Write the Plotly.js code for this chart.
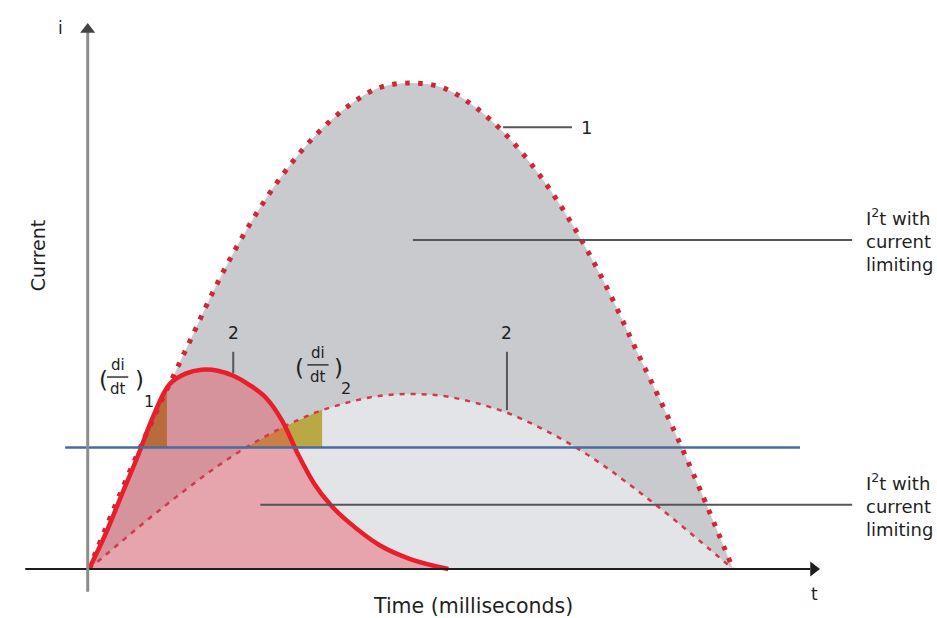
<!DOCTYPE html>
<html>
<head>
<meta charset="utf-8">
<script src="https://cdn.plot.ly/plotly-3.0.1.min.js"></script>
<style>
html,body{margin:0;padding:0;background:#fff;}
#chart{width:937px;height:618px;}
</style>
</head>
<body>
<div id="chart"></div>
<script>
// ---- data (time in ms units, current in relative units) ----
const tBig = [0,0.5,1,1.5,2,2.5,3,3.5,4,4.5,5,5.5,6,6.5,7,7.5,8,8.5,9,9.5,10];
const iBig = [0,1.6,3.1,4.5,5.9,7.1,8.1,8.9,9.5,9.9,10.0,9.9,9.5,8.9,8.1,7.1,5.9,4.5,3.1,1.6,0];
const tSmall = [0,0.5,1,1.5,2,2.5,3,3.5,4,4.5,5,5.5,6,6.5,7,7.5,8,8.5,9,9.5,10];
const iSmall = [0,0.56,1.11,1.63,2.12,2.55,2.91,3.21,3.42,3.56,3.6,3.56,3.42,3.21,2.91,2.55,2.12,1.63,1.11,0.56,0];
const tFault = [0,0.25,0.5,0.75,1.0,1.25,1.5,1.75,2.0,2.25,2.5,2.75,3.0,3.25,3.5,3.75,4.0,4.5,5.0,5.58];
const iFault = [0,0.7,1.5,2.3,3.15,3.8,4.02,4.1,4.08,3.97,3.78,3.52,3.05,2.35,1.75,1.32,1.0,0.5,0.2,0];
const tLimit = [-0.37, 11.04];
const iLimit = [2.5, 2.5];
const tSlope1 = [0.8, 1.0, 1.21, 1.21];
const iSlope1 = [2.5, 3.15, 3.72, 2.5];
const tSlope2 = [2.44, 2.5, 3.0, 3.5, 3.62, 3.62];
const iSlope2 = [2.5, 2.55, 2.91, 3.21, 3.28, 2.5];
// axis extents (time axis and current axis)
const tAxis = [-0.99, 11.2];
const iAxis = [-0.47, 11.05];

const FONT = 'DejaVu Sans, Arial, sans-serif';
const TXT = '#1f1f1f';

const traces = [
  {x: tBig, y: iBig, mode: 'none', fill: 'tozeroy', fillcolor: '#c9cace', line:{shape:'spline'}, hoverinfo:'skip'},
  {x: tSmall, y: iSmall, mode: 'none', fill: 'tozeroy', fillcolor: '#e3e4e7', line:{shape:'spline'}, hoverinfo:'skip'},
  {x: tSlope1, y: iSlope1, mode: 'none', fill: 'toself', fillcolor: '#9a8a36', hoverinfo:'skip'},
  {x: tSlope2, y: iSlope2, mode: 'none', fill: 'toself', fillcolor: '#b9a845', hoverinfo:'skip'},
  {x: tFault, y: iFault, mode: 'none', fill: 'tozeroy', fillcolor: 'rgba(235,55,70,0.37)', line:{shape:'spline'}, hoverinfo:'skip'},
  {x: tSmall, y: iSmall, mode: 'lines', line: {color:'#cf3a4c', width:2.5, dash:'5px,6px', shape:'spline'}, hoverinfo:'skip'},
  {x: tBig, y: iBig, mode: 'lines', line: {color:'#d02638', width:5, dash:'4.5px,8.5px', shape:'spline'}, hoverinfo:'skip'},
  {x: tFault, y: iFault, mode: 'lines', line: {color:'#e81e2c', width:4.5, shape:'spline'}, hoverinfo:'skip'},
  {x: tLimit, y: iLimit, mode: 'lines', line: {color:'#4a6b9c', width:2.5}, hoverinfo:'skip'},
  // time axis line with arrowhead
  {x: tAxis, y: [0, 0], mode: 'lines', line: {color:'#1e1e1e', width:2}, hoverinfo:'skip'},
  {x: [tAxis[1] + 0.05], y: [0], mode: 'markers', marker: {symbol:'triangle-right', size:13, color:'#1e1e1e'}, hoverinfo:'skip'},
  // current axis line with arrowhead
  {x: [-0.02, -0.02], y: iAxis, mode: 'lines', line: {color:'#8c8c8c', width:3}, hoverinfo:'skip'},
  {x: [-0.02], y: [iAxis[1] + 0.05], mode: 'markers', marker: {symbol:'triangle-up', size:13, color:'#444'}, hoverinfo:'skip'}
];

const gray = '#555555';
const shapes = [
  // leader lines
  {type:'line', x0:6.43, x1:7.5, y0:9.09, y1:9.09, line:{color:gray, width:2}, layer:'above'},
  {type:'line', x0:5.03, x1:11.85, y0:6.77, y1:6.77, line:{color:gray, width:2}, layer:'above'},
  {type:'line', x0:2.66, x1:11.85, y0:1.32, y1:1.32, line:{color:gray, width:2}, layer:'above'},
  {type:'line', x0:2.24, x1:2.24, y0:4.03, y1:4.47, line:{color:gray, width:2}, layer:'above'},
  {type:'line', x0:6.49, x1:6.49, y0:3.27, y1:4.47, line:{color:gray, width:2}, layer:'above'},
  // fraction bars
  {type:'line', x0:0.28, x1:0.61, y0:3.95, y1:3.95, line:{color:'#333', width:1.5}, layer:'above'},
  {type:'line', x0:3.39, x1:3.72, y0:4.2, y1:4.2, line:{color:'#333', width:1.5}, layer:'above'}
];

function ann(x, y, text, size, extra){
  return Object.assign({x:x, y:y, xref:'x', yref:'y', text:text, showarrow:false,
    font:{family:FONT, size:size, color:TXT}}, extra||{});
}

const annotations = [
  ann(-0.435, 11.13, 'i', 17),
  ann(11.27, -0.51, 't', 17),
  ann(-0.79, 6.44, 'Current', 19, {textangle:-90}),
  ann(5.96, -0.77, 'Time (milliseconds)', 20.5),
  ann(7.73, 9.09, '1', 18),
  ann(2.24, 4.86, '2', 17),
  ann(6.49, 4.86, '2', 17),
  ann(12.03, 6.77, 'I<sup>2</sup>t with<br>current<br>limiting', 18, {xanchor:'left', align:'left'}),
  ann(12.03, 1.32, 'I<sup>2</sup>t with<br>current<br>limiting', 18, {xanchor:'left', align:'left'}),
  // (di/dt)1
  ann(0.22, 3.88, '(', 23),
  ann(0.445, 4.2, 'di', 15),
  ann(0.445, 3.7, 'dt', 15),
  ann(0.78, 3.88, ')', 23),
  ann(0.93, 3.44, '1', 16),
  // (di/dt)2
  ann(3.27, 4.13, '(', 23),
  ann(3.555, 4.45, 'di', 15),
  ann(3.555, 3.95, 'dt', 15),
  ann(3.87, 4.13, ')', 23),
  ann(3.99, 3.72, '2', 16)
];

const layout = {
  width: 937, height: 618,
  margin: {l:0, r:0, t:0, b:0, pad:0},
  paper_bgcolor: '#ffffff', plot_bgcolor: '#ffffff',
  showlegend: false,
  xaxis: {range:[-1.382, 13.168], showgrid:false, zeroline:false, showticklabels:false, ticks:'', showline:false, fixedrange:true},
  yaxis: {range:[-1.008, 11.708], showgrid:false, zeroline:false, showticklabels:false, ticks:'', showline:false, fixedrange:true},
  shapes: shapes,
  annotations: annotations
};

Plotly.newPlot('chart', traces, layout, {displayModeBar:false, staticPlot:true});
</script>
</body>
</html>
